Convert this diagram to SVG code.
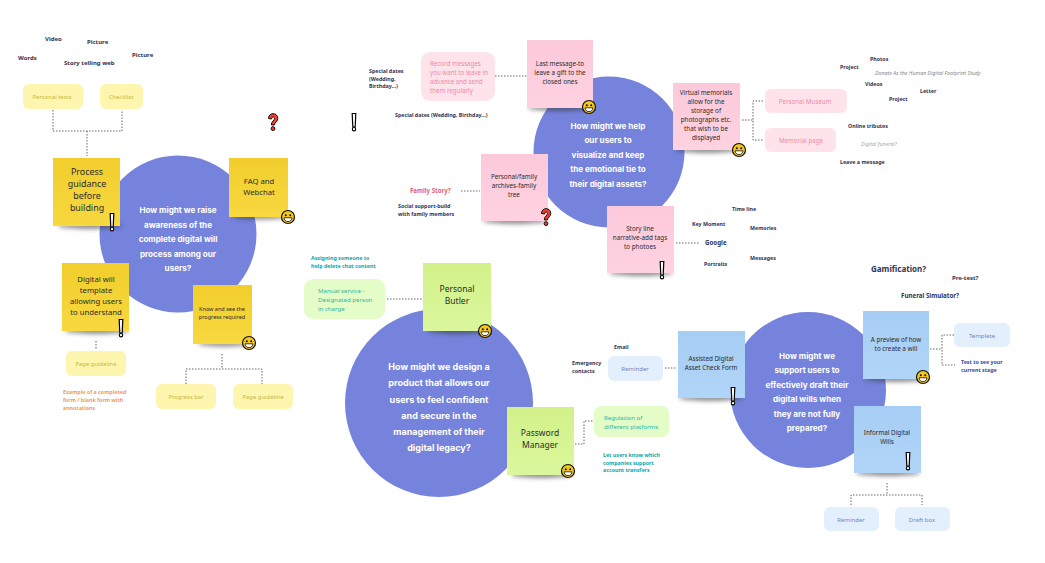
<svg xmlns="http://www.w3.org/2000/svg" width="1045" height="563" viewBox="0 0 1045 563">
<style>
text{font-family:"Noto Sans","Open Sans","Liberation Sans",sans-serif;text-anchor:middle}
.hmw{font-family:Inter,"Noto Sans",sans-serif;font-weight:700;fill:#fff;font-size:8.1px}
.c{fill:#7583dd}
.lb{font-weight:700;font-size:5.3px;fill:#33334f;text-anchor:start}
.lt{font-size:6px}
.st{fill:#2b2b2b;font-size:7.7px}
.s2{font-size:6.3px}
.y{fill:url(#gy)}.p{fill:url(#gp)}.g{fill:url(#gg)}.b{fill:url(#gb)}
.sh{fill:#333;opacity:.55;filter:url(#bl)}
.ty{fill:#fef5ae}.ttY{fill:#c9b840;font-size:5.9px}
.tp{fill:#fee3ea}.ttP{fill:#ee8aa8;font-size:6.2px}
.tg{fill:#e4fcc8}.ttG{fill:#2bb6a0;font-size:6.1px}
.tb{fill:#e3effd}.ttB{fill:#7486b8;font-size:6px}
.dot{fill:none;stroke:#666;stroke-width:1;stroke-dasharray:1.5 1.5}
.teal{font-weight:700;font-size:5.3px;fill:#12a5a8;text-anchor:start}
</style>
<defs>
<linearGradient id="gy" x1="0" y1="0" x2="0" y2="1"><stop offset="0" stop-color="#f1ce2c"/><stop offset="1" stop-color="#f7d83f"/></linearGradient>
<linearGradient id="gp" x1="0" y1="0" x2="0" y2="1"><stop offset="0" stop-color="#fcc9da"/><stop offset="1" stop-color="#ffd2e1"/></linearGradient>
<linearGradient id="gg" x1="0" y1="0" x2="0" y2="1"><stop offset="0" stop-color="#d2f189"/><stop offset="1" stop-color="#dbf79d"/></linearGradient>
<linearGradient id="gb" x1="0" y1="0" x2="0" y2="1"><stop offset="0" stop-color="#a6cdf4"/><stop offset="1" stop-color="#b1d5f8"/></linearGradient>
<filter id="bl" x="-20%" y="-100%" width="140%" height="300%"><feGaussianBlur stdDeviation="2"/></filter>
<g id="smile"><circle r="6.5" fill="#f5c71a" stroke="#111" stroke-width="1.2"/><circle cx="-2.2" cy="-1.8" r="1" fill="#111"/><circle cx="2.2" cy="-1.8" r="1" fill="#111"/><path d="M-4 .8H4C3.6 3.6 1.8 4.6 0 4.6S-3.6 3.6-4 .8Z" fill="#fff" stroke="#111" stroke-width=".8"/></g>
<g id="excl"><path d="M-1.8-8.5H1.8L1.2 5H-1.2Z" fill="#fff" stroke="#000" stroke-width="1.2"/><circle cy="7.2" r="1.7" fill="#fff" stroke="#000" stroke-width="1.1"/></g>
<g id="ques"><path d="M-4.5-3.5C-4.5-10 4.8-10 4.8-3.5C4.8-.3 1.6 0 1.4 3H-1.6C-1.8-1 1.6-1.2 1.6-3.5C1.6-5.5-1.4-5.5-1.5-3Z" fill="#ef3e2c" stroke="#111" stroke-width="1"/><circle cy="6.6" r="1.9" fill="#ef3e2c" stroke="#111" stroke-width="1"/></g>
</defs>
<rect width="1045" height="563" fill="#fff"/>

<g id="connectors">
<path class="dot" d="M53 110V131H122V110M87 131V156"/>
<path class="dot" d="M96 341V350"/>
<path class="dot" d="M222 354V369M186 384V369H262V384"/>
<path class="dot" d="M495 76H527"/>
<path class="dot" d="M461 191H480"/>
<path class="dot" d="M742 120H753M763 101H753V140H763"/>
<path class="dot" d="M676 243H700"/>
<path class="dot" d="M387 299H422"/>
<path class="dot" d="M575 444H584V421H593"/>
<path class="dot" d="M665 368H677"/>
<path class="dot" d="M930 349H942M954 335H942V365H955"/>
<path class="dot" d="M887 483V495M851 505V495H922V505"/>
</g>

<g id="hmw1"><circle class="c" cx="178" cy="234" r="78.5"/>
<text class="hmw"><tspan x="178" y="213">How might we raise</tspan><tspan x="178" y="228">awareness of the</tspan><tspan x="178" y="242">complete digital will</tspan><tspan x="178" y="257">process among our</tspan><tspan x="178" y="271">users?</tspan></text></g>
<g id="hmw2"><circle class="c" cx="609" cy="152" r="75.5"/>
<text class="hmw"><tspan x="608" y="129">How might we help</tspan><tspan x="608" y="143">our users to</tspan><tspan x="608" y="158">visualize and keep</tspan><tspan x="608" y="172">the emotional tie to</tspan><tspan x="608" y="187">their digital assets?</tspan></text></g>
<g id="hmw3"><circle class="c" cx="439" cy="403" r="94"/>
<text class="hmw" style="font-size:9px"><tspan x="439" y="370">How might we design a</tspan><tspan x="439" y="386">product that allows our</tspan><tspan x="439" y="403">users to feel confident</tspan><tspan x="439" y="419">and secure in the</tspan><tspan x="439" y="435">management of their</tspan><tspan x="439" y="451">digital legacy?</tspan></text></g>
<g id="hmw4"><circle class="c" cx="808" cy="390" r="78"/>
<text class="hmw"><tspan x="807" y="359">How might we</tspan><tspan x="807" y="373">support users to</tspan><tspan x="807" y="388">effectively draft their</tspan><tspan x="807" y="402">digital wills when</tspan><tspan x="807" y="417">they are not fully</tspan><tspan x="807" y="431">prepared?</tspan></text></g>

<g id="n-process"><ellipse class="sh" cx="90" cy="226" rx="32" ry="3"/><rect class="y" x="53" y="158" width="67" height="68"/><text class="st" style="font-size:8.9px"><tspan x="87" y="175">Process</tspan><tspan x="87" y="187">guidance</tspan><tspan x="87" y="199">before</tspan><tspan x="87" y="211">building</tspan></text><use href="#excl" x="112" y="222"/></g>
<g id="n-faq"><ellipse class="sh" cx="260" cy="217" rx="27" ry="2.5"/><rect class="y" x="229" y="158" width="59" height="59"/><text class="st"><tspan x="259" y="184">FAQ and</tspan><tspan x="259" y="194.500">Webchat</tspan></text><use href="#smile" x="288" y="217"/></g>
<g id="n-template"><ellipse class="sh" cx="97" cy="331" rx="32" ry="3"/><rect class="y" x="62" y="263" width="67" height="68"/><text class="st"><tspan x="96" y="282">Digital will</tspan><tspan x="96" y="293">template</tspan><tspan x="96" y="304">allowing users</tspan><tspan x="96" y="314.500">to understand</tspan></text><use href="#excl" x="121" y="328"/></g>
<g id="n-know"><ellipse class="sh" cx="224" cy="344" rx="26" ry="2.5"/><rect class="y" x="193" y="285" width="59" height="59"/><text class="st" style="font-size:5.5px"><tspan x="222" y="311">Know and see the</tspan><tspan x="222" y="319">progress required</tspan></text><use href="#smile" x="249" y="343"/></g>

<g id="t-personal-tests"><rect class="ty" x="23" y="84" width="60" height="25" rx="6"/><text class="ttY" x="52" y="98.500">Personal tests</text></g>
<g id="t-checklist"><rect class="ty" x="100" y="84" width="43" height="25" rx="6"/><text class="ttY" x="121" y="98.500">Checklist</text></g>
<g id="t-page1"><rect class="ty" x="66" y="351" width="60" height="25" rx="6"/><text class="ttY" x="96" y="366">Page guideline</text></g>
<g id="t-progress"><rect class="ty" x="156" y="384" width="60" height="25" rx="6"/><text class="ttY" x="186" y="399">Progress bar</text></g>
<g id="t-page2"><rect class="ty" x="233" y="384" width="60" height="25" rx="6"/><text class="ttY" x="263" y="399">Page guideline</text></g>

<g id="n-last"><ellipse class="sh" cx="560" cy="108" rx="32" ry="3"/><rect class="p" x="527" y="40" width="66" height="68"/><text class="st s2"><tspan x="560" y="66">Last message-to</tspan><tspan x="560" y="75">leave a gift to the</tspan><tspan x="560" y="84">closed ones</tspan></text><use href="#smile" x="589" y="107"/></g>
<g id="n-family"><ellipse class="sh" cx="515" cy="221" rx="32" ry="3"/><rect class="p" x="481" y="154" width="67" height="67"/><text class="st s2"><tspan x="514" y="179">Personal/family</tspan><tspan x="514" y="188">archives-family</tspan><tspan x="514" y="197">tree</tspan></text><use href="#ques" x="546" y="217"/></g>
<g id="n-story"><ellipse class="sh" cx="641" cy="273" rx="32" ry="3"/><rect class="p" x="607" y="206" width="67" height="67"/><text class="st s2"><tspan x="640" y="231">Story line</tspan><tspan x="640" y="240">narrative-add tags</tspan><tspan x="640" y="249">to photoes</tspan></text><use href="#excl" x="662" y="270"/></g>
<g id="n-virtual"><ellipse class="sh" cx="707" cy="150" rx="32" ry="3"/><rect class="p" x="673" y="83" width="67" height="67"/><text class="st s2"><tspan x="706" y="95">Virtual memorials</tspan><tspan x="706" y="104">allow for the</tspan><tspan x="706" y="113">storage of</tspan><tspan x="706" y="122">photographs etc.</tspan><tspan x="706" y="131">that wish to be</tspan><tspan x="706" y="140">displayed</tspan></text><use href="#smile" x="739" y="150"/></g>

<g id="t-record"><rect class="tp" x="421" y="52" width="74" height="49" rx="9"/><text class="ttP" style="text-anchor:start"><tspan x="430" y="66">Record messages</tspan><tspan x="430" y="75">you want to leave in</tspan><tspan x="430" y="84">advance and send</tspan><tspan x="430" y="93">them regularly</tspan></text></g>
<g id="t-museum"><rect class="tp" x="765" y="89" width="82" height="24" rx="6"/><text class="ttP" x="805" y="103.500">Personal Museum</text></g>
<g id="t-memorial"><rect class="tp" x="765" y="128" width="71" height="24" rx="6"/><text class="ttP" x="801" y="142.500">Memorial page</text></g>

<g id="n-butler"><ellipse class="sh" cx="458" cy="331" rx="30" ry="3"/><rect class="g" x="423" y="263" width="68" height="68"/><text class="st" style="font-size:8.5px"><tspan x="457" y="292">Personal</tspan><tspan x="457" y="304">Butler</tspan></text><use href="#smile" x="485" y="331"/></g>
<g id="n-password"><ellipse class="sh" cx="542" cy="475" rx="31" ry="3"/><rect class="g" x="507" y="407" width="67" height="68"/><text class="st" style="font-size:8.5px"><tspan x="540" y="436">Password</tspan><tspan x="540" y="448">Manager</tspan></text><use href="#smile" x="568" y="471"/></g>
<g id="t-manual"><rect class="tg" x="304" y="279" width="81" height="40" rx="9"/><text class="ttG" style="text-anchor:start"><tspan x="318" y="293">Manual service -</tspan><tspan x="318" y="302">Designated person</tspan><tspan x="318" y="311">in charge</tspan></text></g>
<g id="t-regulation"><rect class="tg" x="594" y="406" width="75" height="31" rx="7"/><text class="ttG" style="text-anchor:start"><tspan x="604" y="419.500">Regulation of</tspan><tspan x="604" y="428.500">different platforms</tspan></text></g>

<g id="n-assisted"><ellipse class="sh" cx="711" cy="398" rx="32" ry="3"/><rect class="b" x="678" y="331" width="67" height="67"/><text class="st s2"><tspan x="711" y="361">Assisted Digital</tspan><tspan x="711" y="370">Asset Check Form</tspan></text><use href="#excl" x="733" y="396"/></g>
<g id="n-preview"><ellipse class="sh" cx="897" cy="379" rx="32" ry="3"/><rect class="b" x="863" y="311" width="66" height="68"/><text class="st s2"><tspan x="896" y="342">A preview of how</tspan><tspan x="896" y="351">to create a will</tspan></text><use href="#smile" x="923" y="377"/></g>
<g id="n-informal"><ellipse class="sh" cx="888" cy="473" rx="32" ry="3"/><rect class="b" x="854" y="406" width="67" height="67"/><text class="st s2"><tspan x="887" y="435">Informal Digital</tspan><tspan x="887" y="444">Wills</tspan></text><use href="#excl" x="908" y="461"/></g>
<g id="t-reminder1"><rect class="tb" x="608" y="356" width="55" height="25" rx="6"/><text class="ttB" x="635" y="371">Reminder</text></g>
<g id="t-templete"><rect class="tb" x="954" y="323" width="56" height="24" rx="6"/><text class="ttB" x="982" y="337.500">Templete</text></g>
<g id="t-reminder2"><rect class="tb" x="824" y="507" width="55" height="24" rx="6"/><text class="ttB" x="851" y="521.500">Reminder</text></g>
<g id="t-draft"><rect class="tb" x="895" y="507" width="55" height="24" rx="6"/><text class="ttB" x="922" y="521.500">Draft box</text></g>

<g id="marks"><use href="#ques" x="273" y="122"/><use href="#excl" x="354" y="122"/></g>

<g id="labels">
<text class="lb lt" x="45" y="41">Video</text><text class="lb lt" x="87" y="44">Picture</text><text class="lb lt" x="18" y="60">Words</text><text class="lb lt" x="64" y="65">Story telling web</text><text class="lb lt" x="132" y="57">Picture</text>
<text class="lb" style="fill:#f29a5c"><tspan x="63" y="394">Example of a completed</tspan><tspan x="63" y="402">form / blank form with</tspan><tspan x="63" y="409.500">annotations</tspan></text>
<text class="lb"><tspan x="369" y="73">Special dates</tspan><tspan x="369" y="80.500">(Wedding,</tspan><tspan x="369" y="88">Birthday...)</tspan></text>
<text class="lb" x="395" y="117">Special dates (Wedding, Birthday...)</text>
<text class="lb" style="fill:#e4606f;font-size:6.100px" x="410" y="193">Family Story?</text>
<text class="lb"><tspan x="398" y="208">Social support-build</tspan><tspan x="398" y="216">with family members</tspan></text>
<text class="teal"><tspan x="311" y="260">Assigning someone to</tspan><tspan x="311" y="267.500">help delete chat content</tspan></text>
<text class="teal"><tspan x="603" y="457">Let users know which</tspan><tspan x="603" y="464.500">companies support</tspan><tspan x="603" y="472">account transfers</tspan></text>
<text class="lb" x="614" y="348.500">Email</text>
<text class="lb"><tspan x="572" y="365">Emergency</tspan><tspan x="572" y="372.500">contacts</tspan></text>
<text class="lb" x="870" y="61">Photos</text><text class="lb" x="840" y="69">Project</text>
<text class="lb" style="font-weight:400;font-style:italic;fill:#888" x="875" y="75">Donate As the Human Digital Footprint Study</text>
<text class="lb" x="865" y="86">Videos</text><text class="lb" x="920" y="93">Letter</text><text class="lb" x="889" y="101">Project</text>
<text class="lb" x="848" y="128">Online tributes</text>
<text class="lb" style="font-weight:400;font-style:italic;fill:#aaa" x="861" y="146">Digital funeral?</text>
<text class="lb" x="840" y="164">Leave a message</text>
<text class="lb" x="732" y="211">Time line</text><text class="lb" x="692" y="226">Key Moment</text><text class="lb" x="750" y="230">Memories</text>
<text class="lb" style="font-size:6.200px" x="705" y="245">Google</text>
<text class="lb" x="750" y="260">Messages</text><text class="lb" x="704" y="266">Portraits</text>
<text class="lb" style="font-size:8px" x="871" y="272">Gamification?</text>
<text class="lb" style="font-size:6px" x="952" y="280">Pre-test?</text>
<text class="lb" style="font-size:6.200px" x="901" y="298">Funeral Simulator?</text>
<text class="lb" style="fill:#3d4a9c"><tspan x="961" y="364">Test to see your</tspan><tspan x="961" y="371.500">current stage</tspan></text>
</g>
</svg>
